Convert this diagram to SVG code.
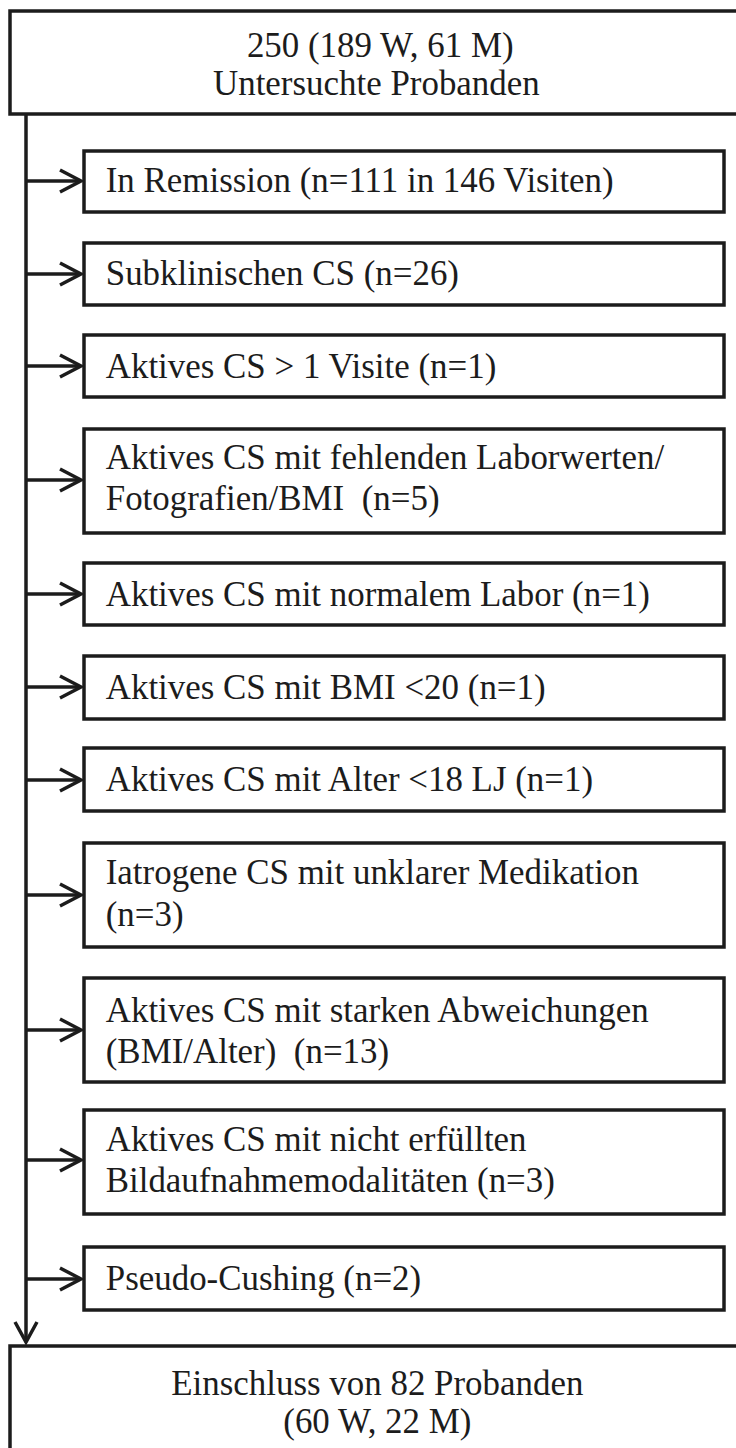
<svg xmlns="http://www.w3.org/2000/svg" width="736" height="1448" viewBox="0 0 736 1448">
<defs>
<style>
.box{fill:#fff;stroke:#1c1c1c;stroke-width:3.5}
.t{font-family:"Liberation Serif","Times New Roman",serif;font-size:36px;fill:#1c1c1c}
.c{text-anchor:middle}
.ln{stroke:#1c1c1c;stroke-width:3.5;fill:none}
.hd{stroke:#1c1c1c;stroke-width:3.5;fill:none;stroke-linejoin:miter}
</style>
</defs>
<rect width="736" height="1448" fill="#fff"/>
<g id="connectors">
<line class="ln" x1="26" y1="115" x2="26" y2="1342"/>
<path class="hd" d="M15,1322 L26,1342 L37,1322"/>
<line class="ln" x1="26" y1="181" x2="81" y2="181"/><path class="hd" d="M60,170 L81,181 L60,192"/>
<line class="ln" x1="26" y1="274" x2="81" y2="274"/><path class="hd" d="M60,263 L81,274 L60,285"/>
<line class="ln" x1="26" y1="366" x2="81" y2="366"/><path class="hd" d="M60,355 L81,366 L60,377"/>
<line class="ln" x1="26" y1="480" x2="81" y2="480"/><path class="hd" d="M60,469 L81,480 L60,491"/>
<line class="ln" x1="26" y1="594" x2="81" y2="594"/><path class="hd" d="M60,583 L81,594 L60,605"/>
<line class="ln" x1="26" y1="687" x2="81" y2="687"/><path class="hd" d="M60,676 L81,687 L60,698"/>
<line class="ln" x1="26" y1="780" x2="81" y2="780"/><path class="hd" d="M60,769 L81,780 L60,791"/>
<line class="ln" x1="26" y1="895" x2="81" y2="895"/><path class="hd" d="M60,884 L81,895 L60,906"/>
<line class="ln" x1="26" y1="1030" x2="81" y2="1030"/><path class="hd" d="M60,1019 L81,1030 L60,1041"/>
<line class="ln" x1="26" y1="1160" x2="81" y2="1160"/><path class="hd" d="M60,1149 L81,1160 L60,1171"/>
<line class="ln" x1="26" y1="1279" x2="81" y2="1279"/><path class="hd" d="M60,1268 L81,1279 L60,1290"/>
</g>
<g id="top">
<rect class="box" x="10" y="11" width="740" height="103"/>
<text class="t c" x="392" y="57" transform="scale(0.97,1)">250 (189 W, 61 M)</text>
<text class="t c" x="388" y="95" transform="scale(0.97,1)">Untersuchte Probanden</text>
</g>
<g id="n1"><rect class="box" x="84" y="151" width="640" height="61"/><text class="t" x="109" y="192" transform="scale(0.97,1)">In Remission (n=111 in 146 Visiten)</text></g>
<g id="n2"><rect class="box" x="84" y="243" width="640" height="62"/><text class="t" x="109" y="285" transform="scale(0.97,1)">Subklinischen CS (n=26)</text></g>
<g id="n3"><rect class="box" x="84" y="335" width="640" height="62"/><text class="t" x="109" y="378" transform="scale(0.97,1)">Aktives CS &gt; 1 Visite (n=1)</text></g>
<g id="n4"><rect class="box" x="84" y="429" width="640" height="104"/><text class="t" x="109" y="469" transform="scale(0.97,1)">Aktives CS mit fehlenden Laborwerten/</text><text class="t" x="109" y="510" transform="scale(0.97,1)" xml:space="preserve">Fotografien/BMI  (n=5)</text></g>
<g id="n5"><rect class="box" x="84" y="563" width="640" height="62"/><text class="t" x="109" y="606" transform="scale(0.97,1)">Aktives CS mit normalem Labor (n=1)</text></g>
<g id="n6"><rect class="box" x="84" y="656" width="640" height="63"/><text class="t" x="109" y="699" transform="scale(0.97,1)">Aktives CS mit BMI &lt;20 (n=1)</text></g>
<g id="n7"><rect class="box" x="84" y="748" width="640" height="63"/><text class="t" x="109" y="791" transform="scale(0.97,1)">Aktives CS mit Alter &lt;18 LJ (n=1)</text></g>
<g id="n8"><rect class="box" x="84" y="843" width="640" height="104"/><text class="t" x="109" y="884" transform="scale(0.97,1)">Iatrogene CS mit unklarer Medikation</text><text class="t" x="109" y="926" transform="scale(0.97,1)">(n=3)</text></g>
<g id="n9"><rect class="box" x="84" y="978" width="640" height="104"/><text class="t" x="109" y="1022" transform="scale(0.97,1)">Aktives CS mit starken Abweichungen</text><text class="t" x="109" y="1063" transform="scale(0.97,1)" xml:space="preserve">(BMI/Alter)  (n=13)</text></g>
<g id="n10"><rect class="box" x="84" y="1110" width="640" height="104"/><text class="t" x="109" y="1151" transform="scale(0.97,1)">Aktives CS mit nicht erfüllten</text><text class="t" x="109" y="1192" transform="scale(0.97,1)">Bildaufnahmemodalitäten (n=3)</text></g>
<g id="n11"><rect class="box" x="84" y="1247" width="640" height="63"/><text class="t" x="109" y="1290" transform="scale(0.97,1)">Pseudo-Cushing (n=2)</text></g>
<g id="bottom">
<rect class="box" x="10" y="1346" width="740" height="120"/>
<text class="t c" x="389" y="1395" transform="scale(0.97,1)">Einschluss von 82 Probanden</text>
<text class="t c" x="389" y="1433" transform="scale(0.97,1)">(60 W, 22 M)</text>
</g>
</svg>
